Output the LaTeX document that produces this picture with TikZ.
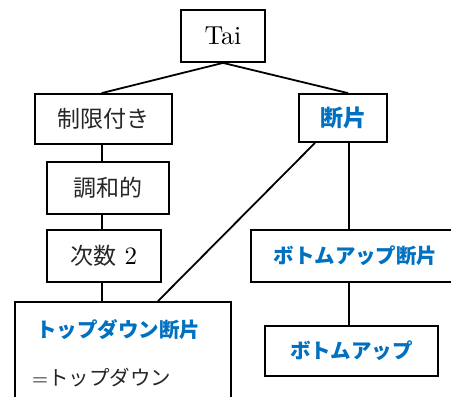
\documentclass[tikz,border=0pt]{standalone}
\usepackage{fontspec}
\setmainfont{lmroman10-regular.otf}[BoldFont=lmroman10-bold.otf]
\newfontfamily\jp{Noto Sans CJK JP}
\definecolor{jblue}{HTML}{0070C0}
\begin{document}
\begin{tikzpicture}[x=1pt,y=-1pt,
  box/.style={draw,line width=1.8pt,inner sep=0pt,text=black!85},
  big/.style={font=\fontsize{23}{27}\selectfont},
  small/.style={font=\fontsize{20.5}{24}\selectfont},
  bl/.style={text=jblue},
  conn/.style={line width=1.8pt}]
\useasboundingbox (0,0) rectangle (451,397);
\clip (0,0) rectangle (451,397);
\node[box,font=\fontsize{26}{30}\selectfont,text=black,minimum width=84pt,minimum height=52pt] (tai) at (223,36) {Tai};
\node[box,big,minimum width=137pt,minimum height=50pt] (seig) at (103.5,119) {\jp 制限付き};
\node[box,big,bl,minimum width=88pt,minimum height=48pt] (dan) at (343,118) {\jp\bfseries 断片};
\node[box,big,minimum width=122pt,minimum height=52pt] (chowa) at (108,188) {\jp 調和的};
\node[box,big,minimum width=114pt,minimum height=52pt] (jisu) at (104,256) {{\jp 次数} {\color{black}\fontsize{25}{30}\selectfont 2}};
\node[box,minimum width=216pt,minimum height=118pt] (td) at (123,361) {};
\node[small,bl,anchor=west,inner sep=0pt] (tdt) at (36,330) {\jp\bfseries トップダウン断片};
\node[small,text=black!85,anchor=west,inner sep=0pt] (tde) at (32,378) {{\color{black}=}{\jp トップダウン}};
\node[box,small,bl,minimum width=209pt,minimum height=52pt] (bud) at (355.5,256) {\jp\bfseries ボトムアップ断片};
\node[box,small,bl,minimum width=173pt,minimum height=50pt] (bu) at (351.5,351) {\jp\bfseries ボトムアップ};
\coordinate (vl) at (101.7,0);
\coordinate (vr) at (349,0);
\draw[conn] (tai.south) -- (seig.north -| vl);
\draw[conn] (tai.south) -- ([xshift=5pt]dan.north);
\draw[conn] (seig.south -| vl) -- (chowa.north -| vl);
\draw[conn] (chowa.south -| vl) -- (jisu.north -| vl);
\draw[conn] (jisu.south -| vl) -- (td.north -| vl);
\draw[conn] ([xshift=-28pt]dan.south) -- ([xshift=35pt]td.north);
\draw[conn] (dan.south -| vr) -- (bud.north -| vr);
\draw[conn] (bud.south -| vr) -- (bu.north -| vr);
\end{tikzpicture}
\end{document}
